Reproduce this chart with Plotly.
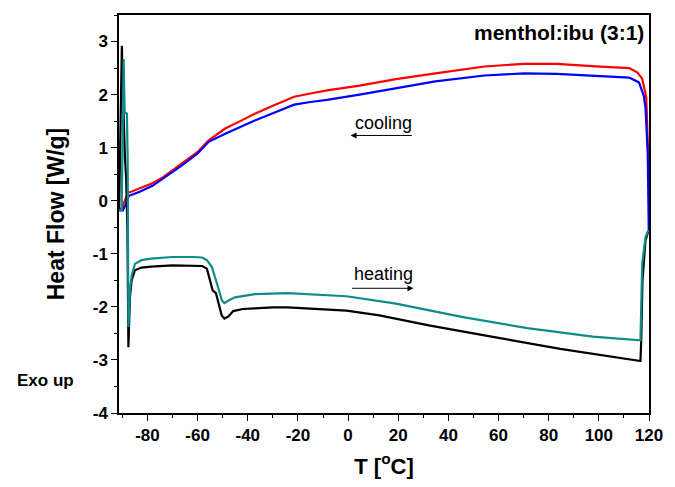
import plotly.graph_objects as go

# DSC traces, menthol:ibuprofen (3:1)
# cooling runs (120 -> -90 °C)
cool_red_T = [-91.3, -90.4, -88.0, -87.6, -87.0, -83.1, -78.0, -73.9, -66.1, -60.0, -55.6, -49.0,
              -43.0, -37.2, -30.0, -21.5, -15.0, -8.4, 4.6, 19.1, 34.8, 54.4, 70.1, 83.2, 98.9,
              112.1, 115.3, 117.3, 118.9, 119.7, 120.0]
cool_red_HF = [-0.16, -0.16, 0.12, 0.16, 0.16, 0.23, 0.33, 0.44, 0.70, 0.92, 1.14, 1.36,
               1.50, 1.64, 1.79, 1.96, 2.02, 2.08, 2.17, 2.29, 2.40, 2.53, 2.58, 2.58, 2.53,
               2.50, 2.42, 2.30, 1.95, 1.01, 0.40]

cool_blue_T = [-91.3, -89.8, -88.5, -87.6, -87.0, -83.1, -78.0, -73.9, -66.1, -60.0, -55.6, -49.0,
               -43.0, -37.2, -30.0, -21.5, -15.0, -8.4, 4.6, 19.1, 34.8, 54.4, 70.1, 83.2, 98.9,
               112.1, 116.0, 117.9, 118.6, 119.5, 119.9]
cool_blue_HF = [-0.18, -0.18, -0.05, 0.08, 0.10, 0.17, 0.28, 0.41, 0.67, 0.89, 1.11, 1.26,
                1.39, 1.51, 1.65, 1.81, 1.86, 1.90, 2.00, 2.12, 2.25, 2.36, 2.40, 2.39, 2.35,
                2.32, 2.23, 1.98, 1.76, 0.89, -0.56]

# heating runs (-90 -> 120 °C)
heat_black_T = [-91.3, -90.9, -90.5, -90.2, -89.9, -89.5, -89.0, -88.5, -88.0, -87.6, -87.0, -86.3,
                -85.0, -82.4, -78.5, -70.0, -62.0, -58.2, -56.3, -55.0, -54.0, -52.7, -51.7, -50.4,
                -49.3, -47.7, -45.8, -42.0, -37.2, -30.0, -24.2, -16.3, -10.0, -0.6, 12.5, 32.2,
                58.3, 84.6, 116.6, 116.9, 117.4, 118.6, 119.7]
heat_black_HF = [-0.15, 1.20, 2.50, 2.92, 2.20, 1.50, 0.85, 0.40, -0.50, -2.76, -1.82, -1.50,
                 -1.31, -1.26, -1.24, -1.22, -1.22, -1.23, -1.28, -1.50, -1.69, -1.74, -1.91, -2.16,
                 -2.22, -2.18, -2.08, -2.04, -2.03, -2.01, -2.01, -2.03, -2.05, -2.07, -2.16, -2.35,
                 -2.57, -2.79, -3.02, -2.63, -1.50, -0.75, -0.58]

heat_teal_T = [-91.3, -90.3, -89.9, -89.5, -89.1, -88.2, -87.9, -87.6, -87.0, -86.3, -85.0, -82.4,
               -78.5, -70.0, -62.0, -58.2, -56.3, -54.3, -52.3, -50.3, -49.3, -47.7, -45.1, -37.2,
               -24.2, -16.3, -0.6, 19.1, 45.3, 71.5, 97.6, 116.6, 117.3, 118.6, 119.7]
heat_teal_HF = [-0.18, -0.18, 1.20, 2.67, 1.67, 1.64, 0.80, -2.38, -1.69, -1.41, -1.19, -1.12,
                -1.09, -1.06, -1.06, -1.07, -1.12, -1.25, -1.56, -1.88, -1.93, -1.88, -1.82, -1.76,
                -1.74, -1.76, -1.80, -1.94, -2.19, -2.40, -2.56, -2.63, -1.18, -0.69, -0.56]

x_ticks = [-80, -60, -40, -20, 0, 20, 40, 60, 80, 100, 120]
y_ticks = [-4, -3, -2, -1, 0, 1, 2, 3]

FONT = "Liberation Sans, Arial, sans-serif"

fig = go.Figure()
for xs, ys, col in [
    (cool_red_T, cool_red_HF, "#ff0000"),
    (cool_blue_T, cool_blue_HF, "#0000ff"),
    (heat_black_T, heat_black_HF, "#000000"),
    (heat_teal_T, heat_teal_HF, "#0f8b8b"),
]:
    fig.add_trace(go.Scatter(x=xs, y=ys, mode="lines",
                             line=dict(color=col, width=2.2), showlegend=False,
                             hoverinfo="skip"))

axis_common = dict(
    showline=True, linecolor="black", linewidth=1.5, mirror=True,
    ticks="outside", ticklen=6, tickwidth=1.3, tickcolor="black",
    showgrid=False, zeroline=False,
    tickfont=dict(family=FONT, size=17, color="black", weight="bold"),
)

fig.update_xaxes(
    range=[-91.35, 120], tickvals=x_ticks, ticktext=[str(v) for v in x_ticks],
    minor=dict(dtick=10, tick0=0, ticks="outside", ticklen=3, tickwidth=1.2, tickcolor="black"),
    title=dict(text="T [<sup>o</sup>C]", standoff=14,
               font=dict(family=FONT, size=22, color="black", weight="bold")),
    **axis_common,
)
fig.update_yaxes(
    range=[-4, 3.5], tickvals=y_ticks, ticktext=[str(v) for v in y_ticks],
    minor=dict(dtick=0.5, tick0=0, ticks="outside", ticklen=3, tickwidth=1.2, tickcolor="black"),
    title=dict(text="Heat Flow [W/g]", standoff=22,
               font=dict(family=FONT, size=23, color="black", weight="bold")),
    **axis_common,
)

annotations = [
    dict(text="<b>menthol:ibu (3:1)</b>", xref="paper", yref="paper", x=0.994, y=0.99,
         xanchor="right", yanchor="top", showarrow=False,
         font=dict(family=FONT, size=21, color="black")),
    dict(text="Exo up", xref="paper", yref="y", x=-0.139, y=-3.38, xanchor="center",
         yanchor="middle", showarrow=False,
         font=dict(family=FONT, size=17, color="black", weight="bold")),
    dict(text="cooling", x=14.0, y=1.47, xref="x", yref="y", showarrow=False,
         font=dict(family=FONT, size=18, color="black")),
    dict(text="heating", x=14.2, y=-1.38, xref="x", yref="y", showarrow=False,
         font=dict(family=FONT, size=18, color="black")),
    # direction arrows
    dict(x=1.0, y=1.23, ax=26.0, ay=1.23, xref="x", yref="y", axref="x", ayref="y",
         showarrow=True, arrowhead=2, arrowsize=1.2, arrowwidth=1, arrowcolor="black", text=""),
    dict(x=26.1, y=-1.65, ax=1.0, ay=-1.65, xref="x", yref="y", axref="x", ayref="y",
         showarrow=True, arrowhead=2, arrowsize=1.2, arrowwidth=1, arrowcolor="black", text=""),
]

fig.update_layout(
    width=675, height=487,
    margin=dict(l=119, r=18, t=15, b=74),
    paper_bgcolor="white", plot_bgcolor="white",
    annotations=annotations,
    font=dict(family=FONT, color="black"),
)

fig.write_html("out.html")
